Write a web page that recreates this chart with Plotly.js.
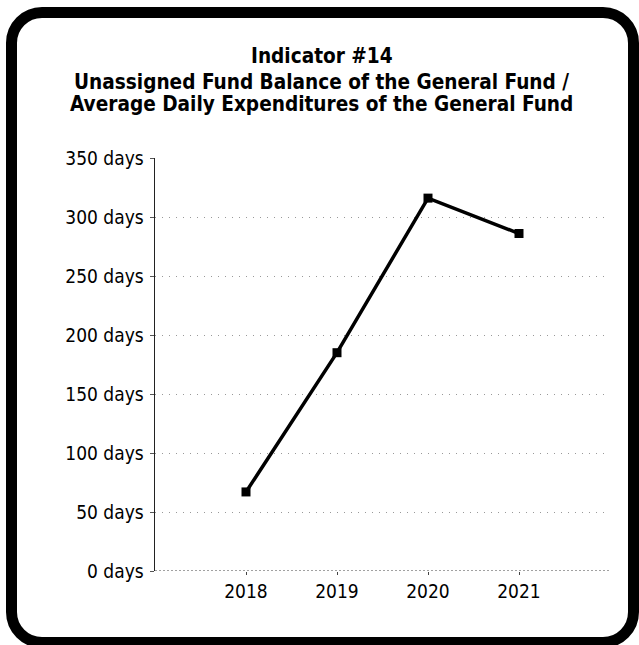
<!DOCTYPE html>
<html>
<head>
<meta charset="utf-8">
<script src="https://cdn.plot.ly/plotly-3.0.1.min.js"></script>
<style>
  html, body { margin: 0; padding: 0; background: #fff; }
  #wrap { position: relative; width: 639px; height: 645px; overflow: hidden; }
  #chart { position: absolute; left: 0; top: 0; width: 639px; height: 645px; }
  #frame { position: absolute; left: 6px; top: 7px; width: 611px; height: 619px;
           border: 11px solid #000; border-radius: 36px; pointer-events: none; }
</style>
</head>
<body>
<div id="wrap">
  <div id="chart"></div>
  <div id="frame"></div>
</div>
<script>
const years = ["2018", "2019", "2020", "2021"];
const days = [67, 185, 316, 286];
const tickValues = [0, 50, 100, 150, 200, 250, 300, 350];
const tickLabels = ["0 days", "50 days", "100 days", "150 days", "200 days", "250 days", "300 days", "350 days"];
const titleLines = ["Indicator #14", "Unassigned Fund Balance of the General Fund /", "Average Daily Expenditures of the General Fund"];

const FONT = "'DejaVu Sans Condensed', 'DejaVu Sans', sans-serif";

const trace = {
  x: years,
  y: days,
  type: "scatter",
  mode: "lines+markers",
  line: { color: "#000", width: 3.5 },
  marker: { symbol: "square", size: 9, color: "#000" },
  hoverinfo: "skip"
};

const titleY = [1.248, 1.184, 1.131];
const annotations = titleLines.map((t, i) => ({
  text: "<b>" + t + "</b>",
  xref: "paper", yref: "paper",
  x: 0.366, y: titleY[i],
  xanchor: "center", yanchor: "middle",
  showarrow: false,
  font: { family: FONT, size: 20.6, color: "#000" }
}));

const layout = {
  width: 639,
  height: 645,
  margin: { l: 155, r: 29, t: 158, b: 74 },
  paper_bgcolor: "#fff",
  plot_bgcolor: "#fff",
  showlegend: false,
  font: { family: FONT, color: "#000", size: 19 },
  annotations: annotations,
  xaxis: {
    type: "category",
    range: [-1, 4],
    showgrid: false,
    zeroline: false,
    showline: false,
    ticks: "outside",
    ticklen: 3,
    tickcolor: "#444",
    tickfont: { family: FONT, size: 19 },
    fixedrange: true
  },
  yaxis: {
    range: [0, 350],
    tickvals: tickValues,
    ticktext: tickLabels,
    showgrid: true,
    gridcolor: "#999",
    griddash: "1px,6px",
    gridwidth: 1,
    zeroline: false,
    showline: true,
    linecolor: "#222",
    linewidth: 1.5,
    ticks: "outside",
    ticklen: 4,
    tickcolor: "#555",
    tickfont: { family: FONT, size: 19 },
    ticklabelstandoff: 2,
    fixedrange: true
  },
  shapes: [
    { type: "line", xref: "paper", yref: "y", x0: 0, x1: 1, y0: 0, y1: 0,
      line: { color: "#444", width: 1.2, dash: "2px,2px" }, layer: "above" }
  ]
};

Plotly.newPlot("chart", [trace], layout, { displayModeBar: false, staticPlot: true });
</script>
</body>
</html>
